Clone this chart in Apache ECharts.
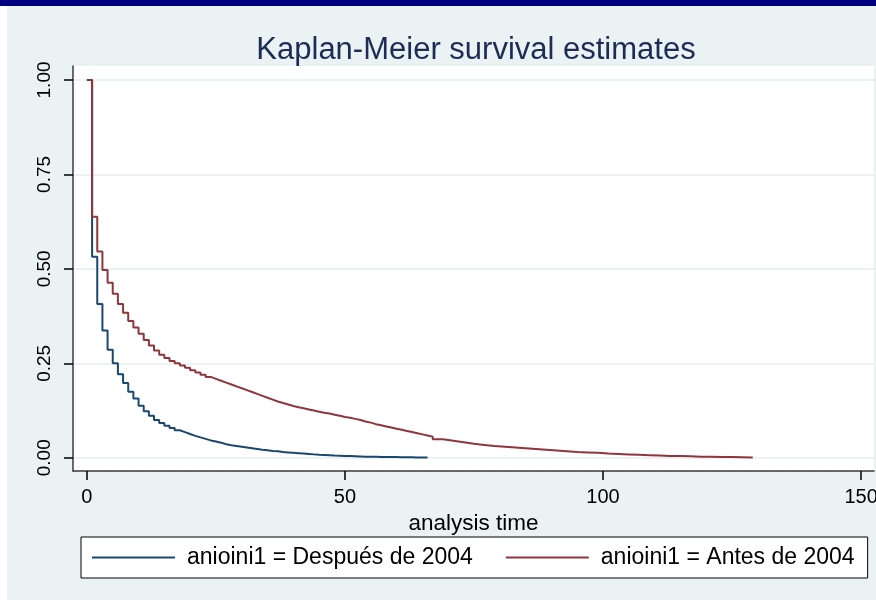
<!DOCTYPE html>
<html>
<head>
<meta charset="utf-8">
<title>Kaplan-Meier</title>
<script src="https://cdn.jsdelivr.net/npm/echarts@6/dist/echarts.min.js"></script>
<style>
  html, body { margin: 0; padding: 0; }
  #main { width: 876px; height: 600px; }
</style>
</head>
<body>
<div id="main"></div>
<script>
// survival data (time, S(t))
var blueTime = [0,1,2,3,4,5,6,7,8,9,10,11,12,13,14,15,16,17,18,19,20,21,22,23,24,25,26,27,28,29,30,31,32,33,34,35,36,37,38,39,40,41,42,43,44,45,46,47,48,49,50,51,52,53,54,55,56,57,58,59,60,61,62,63,64,65,66];
var blueSurv = [1.0,0.532,0.407,0.337,0.286,0.250,0.221,0.198,0.175,0.157,0.138,0.123,0.111,0.100,0.092,0.085,0.079,0.073,0.068,0.063,0.058,0.054,0.050,0.046,0.043,0.040,0.036,0.033,0.031,0.029,0.027,0.025,0.023,0.021,0.020,0.018,0.017,0.015,0.014,0.013,0.012,0.011,0.010,0.009,0.008,0.0075,0.007,0.006,0.0055,0.005,0.0045,0.004,0.0035,0.003,0.0028,0.0025,0.0022,0.002,0.002,0.0018,0.0015,0.0013,0.0012,0.001,0.001,0.001,0.001];

var redTime = [0,1,2,3,4,5,6,7,8,9,10,11,12,13,14,15,16,17,18,19,20,21,22,23,24,25,26,27,28,29,30,31,32,33,34,35,36,37,38,39,40,41,42,43,44,45,46,47,48,49,50,51,52,53,54,55,56,57,58,59,60,61,62,63,64,65,66,67,69,71,73,75,77,79,81,83,85,87,89,91,93,95,97,99,101,103,105,107,109,111,113,115,117,119,121,123,125,127,129];
var redSurv = [1.0,0.638,0.546,0.497,0.463,0.434,0.407,0.384,0.362,0.345,0.328,0.312,0.297,0.284,0.273,0.264,0.256,0.250,0.244,0.238,0.232,0.226,0.220,0.214,0.209,0.204,0.199,0.194,0.189,0.184,0.179,0.174,0.169,0.164,0.159,0.154,0.149,0.145,0.141,0.137,0.134,0.131,0.128,0.125,0.122,0.119,0.117,0.114,0.111,0.108,0.106,0.103,0.100,0.096,0.093,0.089,0.086,0.083,0.080,0.077,0.074,0.071,0.068,0.065,0.062,0.059,0.056,0.049,0.045,0.041,0.037,0.034,0.031,0.029,0.027,0.025,0.023,0.021,0.019,0.017,0.015,0.014,0.013,0.011,0.010,0.009,0.008,0.007,0.006,0.005,0.0045,0.004,0.003,0.0025,0.002,0.002,0.0015,0.001,0.001];

var seriesNames = ['anioini1 = Después de 2004', 'anioini1 = Antes de 2004'];
var xTicks = [0, 50, 100, 150];
var yTicks = [0, 0.25, 0.5, 0.75, 1];

function pairs(t, s) {
    var out = [];
    for (var i = 0; i < t.length; i++) out.push([t[i], s[i]]);
    return out;
}

var font = "'Liberation Sans', Arial, sans-serif";
var chart = echarts.init(document.getElementById('main'));
chart.setOption({
    backgroundColor: '#eaf2f3',
    animation: false,
    textStyle: { fontFamily: font },
    title: {
        text: 'Kaplan-Meier survival estimates',
        left: 471,
        textAlign: 'center',
        top: 30,
        textStyle: { fontSize: 31, fontWeight: 'normal', color: '#1c2c55', fontFamily: font }
    },
    graphic: [
        { type: 'rect', shape: { x: 0, y: 0, width: 876, height: 6 }, style: { fill: '#000080' } },
        { type: 'rect', shape: { x: 0, y: 6, width: 7, height: 594 }, style: { fill: '#ffffff' } }
    ],
    grid: {
        left: 73, right: 2, top: 66, bottom: 129,
        show: true, backgroundColor: '#ffffff', borderWidth: 0,
        outerBoundsMode: 'none'
    },
    legend: {
        left: 81, top: 537,
        backgroundColor: '#ffffff', borderColor: '#000000', borderWidth: 1,
        padding: [9, 13, 9, 11],
        itemGap: 33, itemWidth: 83, itemHeight: 2,
        icon: 'rect',
        textStyle: { fontSize: 23, color: '#000000', padding: [0, 0, 0, 7], fontFamily: font },
        data: seriesNames
    },
    xAxis: {
        type: 'value', min: -2.7, max: 152.5,
        name: 'analysis time', nameLocation: 'middle', nameGap: 37,
        nameTextStyle: { fontSize: 22.5, color: '#000000', fontFamily: font },
        axisLine: { show: true, onZero: false, lineStyle: { color: '#3a3a3a', width: 1.5 } },
        axisTick: { show: true, length: 9, customValues: xTicks, lineStyle: { color: '#000000', width: 1.5 } },
        axisLabel: { customValues: xTicks, fontSize: 20, color: '#000000', margin: 16 },
        splitLine: { show: false }
    },
    yAxis: {
        type: 'value', min: -0.035, max: 1.037,
        axisLine: { show: true, onZero: false, lineStyle: { color: '#3a3a3a', width: 1.5 } },
        axisTick: { show: true, length: 9, customValues: yTicks, lineStyle: { color: '#000000', width: 1.5 } },
        axisLabel: {
            customValues: yTicks, rotate: 90, fontSize: 19, color: '#000000', margin: 19,
            formatter: function (v) { return v.toFixed(2); }
        },
        splitLine: { show: true, lineStyle: { color: '#eaf2f3', width: 2 } }
    },
    series: [
        {
            name: seriesNames[0], type: 'line', step: 'end', showSymbol: false,
            data: pairs(blueTime, blueSurv),
            color: '#1a476f',
            lineStyle: { color: '#1a476f', width: 2 }
        },
        {
            name: seriesNames[1], type: 'line', step: 'end', showSymbol: false,
            data: pairs(redTime, redSurv),
            color: '#90353b',
            lineStyle: { color: '#90353b', width: 2 }
        }
    ]
});
</script>
</body>
</html>
